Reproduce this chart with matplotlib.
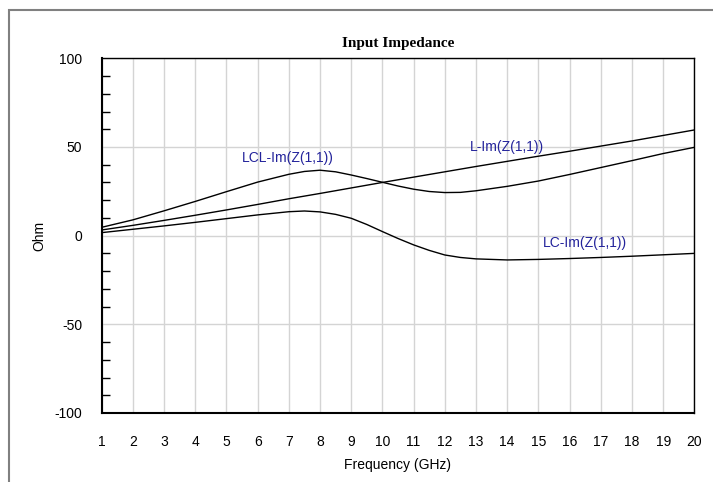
import matplotlib
matplotlib.use("Agg")
import matplotlib.pyplot as plt
from matplotlib.ticker import MultipleLocator, FixedLocator
from matplotlib.patches import Rectangle

# values (GHz, Ohm)
freq_l = [1, 2, 3, 4, 5, 6, 7, 8, 9, 10, 11, 12, 13, 14, 15, 16, 17, 18, 19, 20]
im_l = [3.2, 5.8, 8.6, 11.5, 14.5, 17.6, 20.8, 23.8, 26.9, 30.0,
        33.0, 36.0, 39.0, 41.9, 44.8, 47.6, 50.5, 53.4, 56.5, 59.6]

freq_lcl = [1, 2, 3, 4, 5, 6, 7, 7.5, 8, 8.5, 9, 9.5, 10, 10.5, 11, 11.5, 12, 12.5,
            13, 14, 15, 16, 17, 18, 19, 20]
im_lcl = [4.7, 8.9, 14.0, 19.3, 24.8, 30.2, 34.6, 36.2, 36.9, 36.0, 34.2, 32.2, 30.1,
          28.0, 26.2, 24.9, 24.3, 24.4, 25.3, 27.8, 30.8, 34.5, 38.4, 42.3, 46.3, 49.8]

freq_lc = [1, 2, 3, 4, 5, 6, 7, 7.5, 8, 8.5, 9, 9.5, 10, 10.5, 11, 11.5, 12, 12.5,
           13, 14, 15, 16, 17, 18, 19, 20]
im_lc = [1.7, 3.6, 5.5, 7.5, 9.6, 11.7, 13.5, 13.9, 13.4, 12.0, 9.8, 6.3, 2.3, -1.6,
         -5.2, -8.3, -10.9, -12.3, -13.1, -13.7, -13.4, -12.9, -12.3, -11.6, -10.8, -10.0]

x_ticks = list(range(1, 21))
y_ticks = [-100, -50, 0, 50, 100]

plt.rcParams["font.family"] = ["Liberation Sans", "DejaVu Sans"]
plt.rcParams["axes.unicode_minus"] = False
label_color = "#23239b"

fig = plt.figure(figsize=(7.13, 4.82), dpi=100)
ax = fig.add_axes([0.1426, 0.1432, 0.9738 - 0.1426, 0.879 - 0.1432])

# outer frame (cropped on the right and bottom like the source)
fig.patches.append(Rectangle((9 / 713, -0.1), 1.2, 1 - 10 / 482 + 0.1,
                             transform=fig.transFigure, fill=False,
                             edgecolor="#808080", lw=1.5, zorder=0))

ax.plot(freq_l, im_l, color="black", lw=1.0)
ax.plot(freq_lcl, im_lcl, color="black", lw=1.0)
ax.plot(freq_lc, im_lc, color="black", lw=1.0)

ax.text(5.49, 43.6, "LCL-Im(Z(1,1))", color=label_color, fontsize=10, va="center")
ax.text(12.8, 50.2, "L-Im(Z(1,1))", color=label_color, fontsize=10, va="center")
ax.text(15.13, -3.9, "LC-Im(Z(1,1))", color=label_color, fontsize=10, va="center")

ax.set_xlim(1, 20)
ax.set_ylim(-100, 100)
ax.xaxis.set_major_locator(FixedLocator(x_ticks))
ax.yaxis.set_major_locator(FixedLocator(y_ticks))
ax.yaxis.set_minor_locator(MultipleLocator(10))
ax.tick_params(axis="x", which="major", length=0, pad=16, labelsize=10)
ax.tick_params(axis="y", which="major", length=0, pad=14, labelsize=10)
ax.tick_params(axis="y", which="minor", direction="in", length=6, width=1.0, color="black")
ax.grid(True, which="major", color="#d4d4d4", lw=1.0)
ax.set_axisbelow(True)

for side in ["top", "right"]:
    ax.spines[side].set_linewidth(1.0)
for side in ["left", "bottom"]:
    ax.spines[side].set_linewidth(1.5)

ax.set_title("Input Impedance", fontsize=11, fontweight="bold",
             family=["Liberation Serif", "DejaVu Serif"], pad=8)
ax.set_xlabel("Frequency (GHz)", fontsize=10, labelpad=6)
ax.set_ylabel("Ohm", fontsize=10, labelpad=6)

fig.savefig("out.png", dpi=100)
